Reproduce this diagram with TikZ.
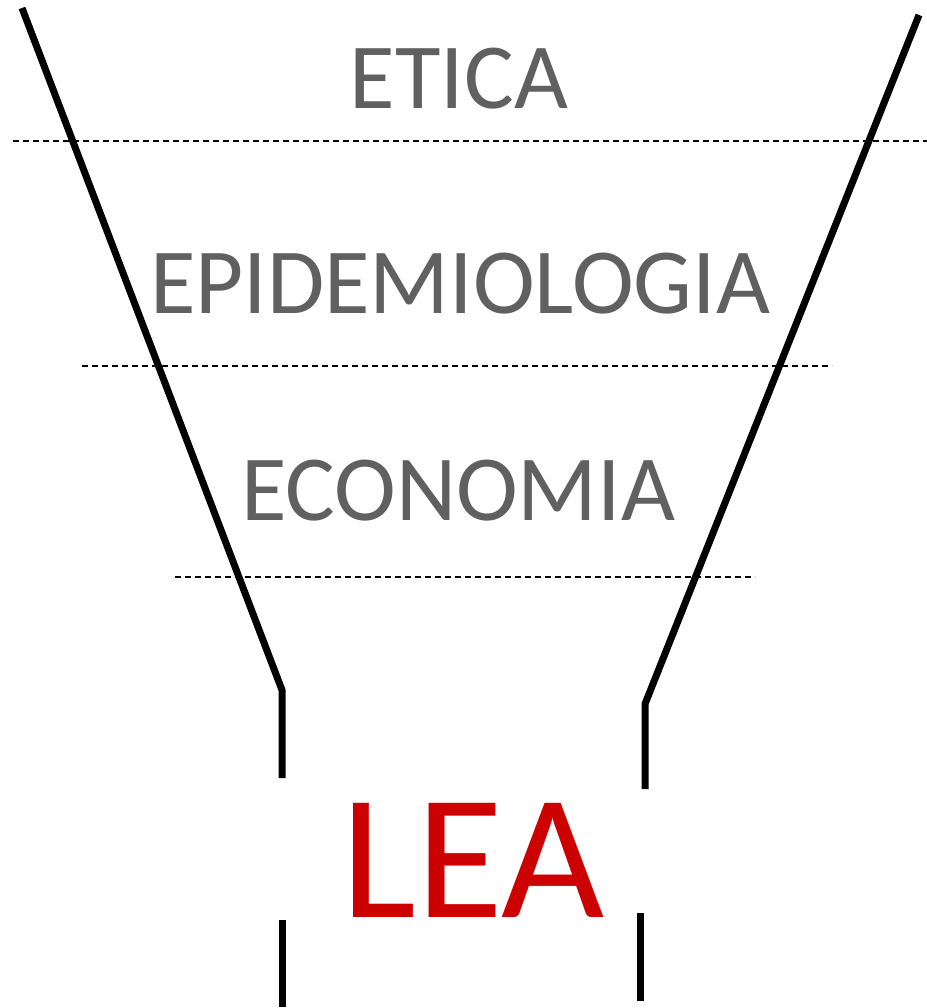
\documentclass[tikz,border=0pt]{standalone}
\usepackage{fontspec}
\setmainfont{Carlito}
\usepackage{xcolor}
\usepackage{tikz}
\definecolor{slate}{HTML}{606060}
\definecolor{crimson}{HTML}{CC0000}
\tikzset{wall/.style={line width=3.5pt,black},
  sep/.style={line width=0.7pt,dash pattern=on 3pt off 2pt},
  level/.style={anchor=base,inner sep=0pt,slate,font=\fontsize{46.6}{50}\selectfont}}

\begin{document}
\begin{tikzpicture}[x=0.5pt,y=-0.5pt]
\useasboundingbox (0,0) rectangle (927,1008);
% funnel walls
\coordinate (lt) at (22,8); \coordinate (lk) at (282,690); \coordinate (lb) at (282,778);
\coordinate (rt) at (919,15); \coordinate (rk) at (645,704); \coordinate (rb) at (645,789);
\draw[wall] (lt)--(lk)--(lb);
\draw[wall] (rt)--(rk)--(rb);
\draw[wall] (282,920)--(282,1007);
\draw[wall] (640,913)--(640,1001);
% layer separators
\draw[sep] (13,141)--(927,141);
\draw[sep] (82,366)--(832,366);
\draw[sep] (175,577)--(755,577);
% layers
\node[level] (etica) at (459,108) {ETICA};
\node[level] (epid) at (460,313) {EPIDEMIOLOGIA};
\node[level] (econ) at (458,520) {ECONOMIA};
\node[anchor=base,inner sep=0pt,crimson,font=\fontsize{89}{95}\selectfont] (lea) at (473,917) {LEA};
\end{tikzpicture}
\end{document}
